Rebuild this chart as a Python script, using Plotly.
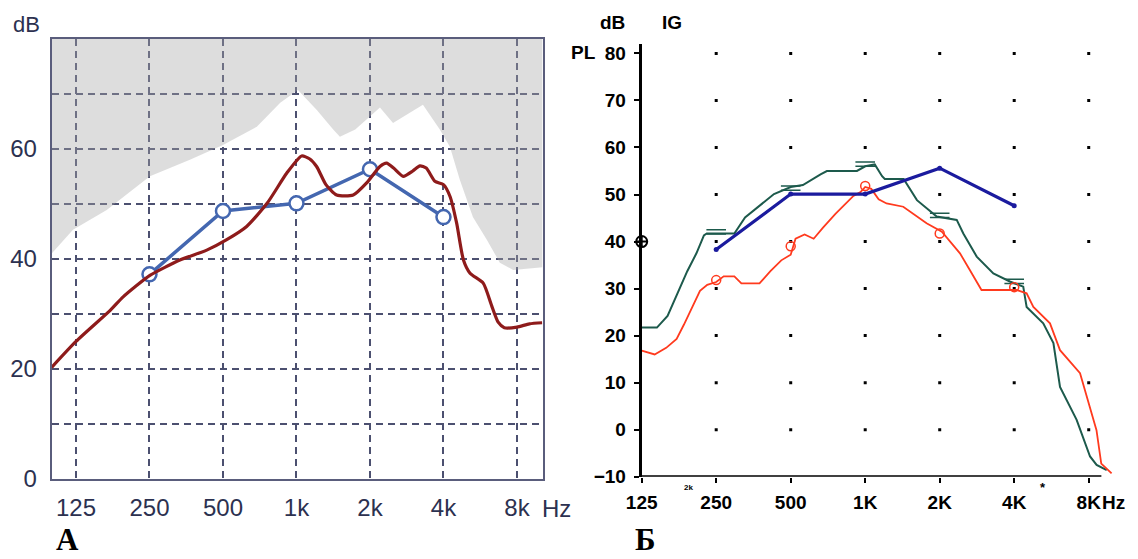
import numpy as np
import plotly.graph_objects as go

W, H = 1138, 559

# ---------------- Panel A data ----------------
a_freq_ticks = [125, 250, 500, 1000, 2000, 4000, 8000]
a_freq_text = ["125", "250", "500", "1k", "2k", "4k", "8k"]
a_db_ticks = [0, 10, 20, 30, 40, 50, 60, 70, 80]
a_db_text = ["0", "", "20", "", "40", "", "60", "", ""]

# grey (uncomfortable-level) region lower boundary
a_gray_f = [99.4, 121.5, 167, 251, 366, 500, 688, 858, 1014, 1214, 1414, 1506,
            1741, 2000, 2197, 2486, 3000, 3296, 3865, 4250, 4667, 5280, 6020,
            6810, 7720, 10180]
a_gray_db = [41, 45.3, 48.9, 55, 58, 60.7, 64, 68.4, 70.7, 67, 63.5, 62.2,
             63.5, 65.8, 67.5, 64.7, 67, 68, 63.5, 60.4, 54.4, 47.6, 43.5,
             39.3, 38, 38.5]

# red curve (response)
a_red_f = [99.4, 125, 173, 195, 251, 333, 429, 518, 625, 758, 913, 1050, 1130,
           1209, 1320, 1461, 1708, 1938, 2197, 2341, 2500, 2738, 3000, 3204,
           3400, 3690, 4000, 4260, 4530, 4830, 5140, 5820, 6300, 6700, 7100,
           8000, 9000, 10150]
a_red_db = [20.3, 25, 30.7, 33.1, 37, 39.8, 41.6, 43.5, 45.9, 50.1, 55.6, 58.7,
            58.2, 56.8, 53.5, 51.6, 51.6, 53.8, 56.8, 57.4, 56.5, 55, 56, 56.9,
            56.5, 54.1, 53.5, 51.3, 46.5, 39.8, 37.4, 35.6, 31.5, 28.5, 27.5,
            27.6, 28.2, 28.4]

# blue target points
a_blue_f = [250, 500, 1000, 2000, 4000]
a_blue_db = [37.2, 48.7, 50.1, 56.3, 47.6]

# ---------------- Panel B data ----------------
b_freq_ticks = [125, 250, 500, 1000, 2000, 4000, 8000]
b_freq_text = ["125", "250", "500", "1K", "2K", "4K", "8K"]
b_db_ticks = [-10, 0, 10, 20, 30, 40, 50, 60, 70, 80]
b_dot_f = [250, 500, 1000, 2000, 4000, 8000]
b_dot_db = [0, 10, 20, 30, 40, 50, 60, 70, 80]

b_green_f = [125, 144, 159, 173, 191, 208, 223, 229, 296, 327, 387, 428, 500,
             560, 660, 700, 926, 1000, 1093, 1170, 1200, 1430, 1618, 1945,
             2343, 2491, 2822, 3294, 3840, 4350, 4490, 5240, 5760, 6125, 7150,
             8100, 8610, 9460]
b_green_db = [21.7, 21.7, 24.2, 28.4, 33.7, 37.5, 41.3, 41.7, 41.7, 45.1, 48.2,
              50.1, 51.6, 52, 54.3, 55, 55, 56, 56.4, 53.9, 53.3, 53.3, 48.8,
              45.3, 44.6, 41.7, 36.8, 33.2, 31.5, 30.4, 26.1, 22.6, 18.4, 9.1,
              2.1, -5.7, -7.5, -8.6]
b_green_marks_f = [250, 500, 1000, 2000, 4000]
b_green_marks_db = [42.5, 51.8, 56.9, 46.0, 32.0]

b_red_f = [125, 141, 157, 173, 185, 201, 215, 230, 250, 268, 296, 316, 374, 414,
           458, 500, 523, 569, 619, 674, 758, 896, 957, 1000, 1058, 1133, 1220,
           1425, 1770, 2040, 2415, 2650, 2950, 3610, 4080, 4490, 4780, 5580,
           6125, 7380, 7840, 8600, 8990, 9900]
b_red_db = [16.8, 16, 17.4, 19.3, 22.3, 26.1, 29.5, 30.8, 31.4, 32.6, 32.6, 31.1,
            31.1, 33.7, 36, 37.2, 40.6, 41.5, 40.6, 42.9, 45.9, 49.7, 50.5, 51.6,
            51.2, 49, 48.1, 47.4, 43.9, 42.1, 37.5, 33.9, 29.7, 29.7, 29.7, 29,
            26.1, 22.6, 16.9, 12, 7, -0.1, -7.2, -9.3]
b_red_marks_f = [250, 500, 1000, 2000, 4000]
b_red_marks_db = [31.8, 39.0, 51.8, 41.7, 30.3]

b_blue_f = [250, 500, 1000, 2000, 4000]
b_blue_db = [38.3, 50.1, 50.1, 55.6, 47.6]

# ---------------- layout geometry ----------------
A_XMIN, A_XMAX = 99.4, 10180
A_YMIN, A_YMAX = 0, 80
B_XMIN, B_XMAX = 125, 10000
B_YMIN, B_YMAX = -10, 82
B_AXIS_END = 9000

navy = "#2c3150"
red_b = "#ff3a1e"
green_b = "#1d5a4c"

fig = go.Figure()

# Panel A
fig.add_trace(go.Scatter(
    x=a_gray_f + [A_XMAX, A_XMIN], y=a_gray_db + [A_YMAX, A_YMAX],
    fill="toself", fillcolor="rgba(165,165,165,0.38)", mode="lines",
    line=dict(width=0), xaxis="x", yaxis="y", hoverinfo="skip", showlegend=False))
fig.add_trace(go.Scatter(
    x=a_blue_f, y=a_blue_db, mode="lines+markers", xaxis="x", yaxis="y",
    line=dict(color="#4467b0", width=3.5),
    marker=dict(symbol="circle", size=14, color="white",
                line=dict(color="#4467b0", width=2.5)),
    showlegend=False))
fig.add_trace(go.Scatter(
    x=a_red_f, y=a_red_db, mode="lines", xaxis="x", yaxis="y",
    line=dict(color="#8e1b1b", width=3.2, shape="spline", smoothing=0.6),
    showlegend=False))

# Panel B
fig.add_trace(go.Scatter(
    x=[f for f in b_dot_f for _ in b_dot_db], y=[d for _ in b_dot_f for d in b_dot_db],
    mode="markers", xaxis="x2", yaxis="y2",
    marker=dict(symbol="square", size=3, color="black"), showlegend=False,
    hoverinfo="skip"))
fig.add_trace(go.Scatter(
    x=b_green_f, y=b_green_db, mode="lines", xaxis="x2", yaxis="y2",
    line=dict(color=green_b, width=2), showlegend=False))
for off in (0.0, -0.9):
    fig.add_trace(go.Scatter(
        x=b_green_marks_f, y=[v + off for v in b_green_marks_db], mode="markers",
        xaxis="x2", yaxis="y2",
        marker=dict(symbol="line-ew", size=14, color=green_b,
                    line=dict(color=green_b, width=1.5)),
        showlegend=False))
fig.add_trace(go.Scatter(
    x=b_red_f, y=b_red_db, mode="lines", xaxis="x2", yaxis="y2",
    line=dict(color=red_b, width=1.8), showlegend=False))
fig.add_trace(go.Scatter(
    x=b_red_marks_f, y=b_red_marks_db, mode="markers", xaxis="x2", yaxis="y2",
    marker=dict(symbol="circle-open", size=9, color=red_b,
                line=dict(color=red_b, width=1.5)),
    showlegend=False))
fig.add_trace(go.Scatter(
    x=b_blue_f, y=b_blue_db, mode="lines+markers", xaxis="x2", yaxis="y2",
    line=dict(color="#1b1b9e", width=3.2),
    marker=dict(symbol="circle", size=5, color="#1b1b9e"), showlegend=False))
fig.add_trace(go.Scatter(
    x=[B_XMIN], y=[40], mode="markers", xaxis="x2", yaxis="y2",
    marker=dict(symbol="circle-cross-open", size=11, color="black",
                line=dict(color="black", width=2)),
    cliponaxis=False, showlegend=False))


def px(x):
    return x / W


def py(y):
    return 1 - y / H


a_font = dict(family="Liberation Sans", size=24, color=navy)
b_font = dict(family="Liberation Sans", size=19, color="black", weight="bold")

fig.update_layout(
    width=W, height=H, margin=dict(l=0, r=0, t=0, b=0),
    paper_bgcolor="white", plot_bgcolor="white", showlegend=False,
    xaxis=dict(type="log", range=[np.log10(A_XMIN), np.log10(A_XMAX)],
               domain=[px(51.7), px(542.5)], anchor="y", automargin=False,
               tickvals=a_freq_ticks, ticktext=a_freq_text, tickfont=a_font,
               showgrid=True, gridcolor="#4c5070", gridwidth=1.5, griddash="7px,5px",
               showline=True, mirror=True, linecolor="#5a5d7c", linewidth=2,
               ticks="", ticklabelstandoff=6, zeroline=False),
    yaxis=dict(range=[A_YMIN, A_YMAX], domain=[py(479), py(38.8)], anchor="x",
               automargin=False,
               tickvals=a_db_ticks, ticktext=a_db_text, tickfont=a_font,
               showgrid=True, gridcolor="#4c5070", gridwidth=1.5, griddash="7px,5px",
               showline=True, mirror=True, linecolor="#5a5d7c", linewidth=2,
               ticks="", ticklabelstandoff=8, zeroline=False),
    xaxis2=dict(type="log", range=[np.log10(B_XMIN), np.log10(B_XMAX)],
                domain=[px(641.7), px(1112.7)], anchor="y2", automargin=False,
                tickvals=b_freq_ticks, ticktext=b_freq_text, tickfont=b_font,
                showgrid=False, showline=False, zeroline=False,
                ticks="outside", ticklen=5, tickwidth=2, tickcolor="black",
                ticklabelstandoff=3),
    yaxis2=dict(range=[B_YMIN, B_YMAX], domain=[py(476.7), py(44)], anchor="x2",
                automargin=False,
                tickvals=b_db_ticks, tickfont=b_font,
                showgrid=False, zeroline=False,
                showline=True, linecolor="black", linewidth=3,
                ticks="outside", ticklen=5, tickwidth=2, tickcolor="black",
                ticklabelstandoff=4),
    shapes=[dict(type="line", xref="x2", yref="y2", x0=B_XMIN, x1=B_AXIS_END,
                 y0=B_YMIN, y1=B_YMIN, line=dict(color="black", width=3))],
)

ann = [
    ("dB", 26, 25, "middle", dict(family="Liberation Sans", size=22, color=navy)),
    ("Hz", 556, 508, "middle", a_font),
    ("A", 67, 558, "bottom", dict(family="Liberation Serif", size=31, color="black", weight="bold")),
    ("dB", 612, 22, "middle", b_font),
    ("IG", 672, 22, "middle", b_font),
    ("PL", 583, 53, "middle", b_font),
    ("Hz", 1113, 502, "middle", b_font),
    ("Б", 645, 558, "bottom", dict(family="Liberation Serif", size=31, color="black", weight="bold")),
    ("2k", 688, 487, "middle", dict(family="Liberation Sans", size=8, color="black", weight="bold")),
    ("*", 1043, 487, "middle", dict(family="Liberation Sans", size=13, color="black", weight="bold")),
]
for t, x, y, anc, f in ann:
    fig.add_annotation(text=t, x=px(x), y=py(y), xref="paper", yref="paper",
                       xanchor="center", yanchor=anc, showarrow=False, font=f,
                       borderpad=0)

fig.write_html("out.html")
